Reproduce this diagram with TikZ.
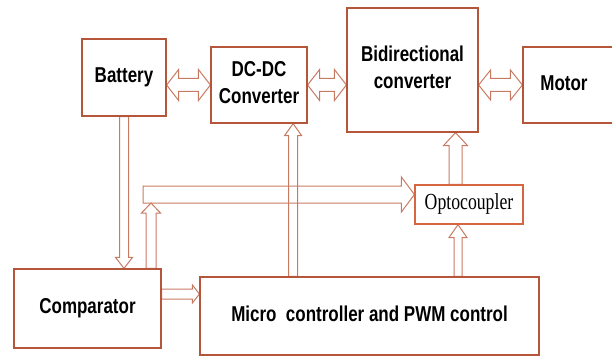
\documentclass[tikz,border=0pt]{standalone}
\usepackage{fontspec}
\setmainfont{Liberation Serif}
\setsansfont{Liberation Sans}
\usetikzlibrary{calc}
\definecolor{boxc}{RGB}{181,86,58}
\definecolor{optoc}{RGB}{214,102,66}
\definecolor{arrowc}{RGB}{199,122,98}
\pgfdeclarelayer{bg}
\pgfsetlayers{bg,main}
\newcommand{\blocktext}[2][0.79]{\scalebox{#1}[1]{\begin{tabular}{@{}c@{}}#2\end{tabular}}}

\begin{document}
\begin{tikzpicture}[x=1pt, y=-1pt,
    block/.style={draw=boxc, line width=1.2pt, fill=white, inner sep=0pt,
      font=\sffamily\bfseries\fontsize{21.5}{27}\selectfont},
    ashaft/.store in=\ashaft, ahead/.store in=\ahead, atip/.store in=\atip,
    ashaft=5, ahead=9, atip=12,
    sarrow/.style={draw=arrowc, line width=1pt, to path={
        (\tikztostart) coordinate (ta) (\tikztotarget) coordinate (tb)
        ($(tb)!\atip pt!(ta)$) coordinate (tn)
        ($(ta)!\ashaft pt!90:(tb)$) -- ($(tn)!\ashaft pt!90:(tb)$)
        -- ($(tn)!\ahead pt!90:(tb)$) -- (tb)
        -- ($(tn)!\ahead pt!-90:(tb)$) -- ($(tn)!\ashaft pt!-90:(tb)$)
        -- ($(ta)!\ashaft pt!-90:(tb)$) -- cycle}},
    darrow/.style={draw=arrowc, line width=1pt, to path={
        (\tikztostart) coordinate (ta) (\tikztotarget) coordinate (tb)
        ($(tb)!\atip pt!(ta)$) coordinate (tn)
        ($(ta)!\atip pt!(tb)$) coordinate (tm)
        (ta) -- ($(tm)!\ahead pt!90:(tb)$) -- ($(tm)!\ashaft pt!90:(tb)$)
        -- ($(tn)!\ashaft pt!90:(tb)$) -- ($(tn)!\ahead pt!90:(tb)$) -- (tb)
        -- ($(tn)!\ahead pt!-90:(tb)$) -- ($(tn)!\ashaft pt!-90:(tb)$)
        -- ($(tm)!\ashaft pt!-90:(tb)$) -- ($(tm)!\ahead pt!-90:(tb)$) -- cycle}} ]
  \clip (0,0) rectangle (612,358);

  % blocks
  \node[block, minimum width=84, minimum height=77] (bat) at (124,77.5) {\blocktext{Battery}};
  \node[block, minimum width=96, minimum height=76] (dcdc) at (259,85) {\blocktext{DC-DC\\Converter}};
  \node[block, minimum width=131, minimum height=124] (bidir) at (412.5,70) {\blocktext{Bidirectional\\converter}};
  \node[block, minimum width=100, minimum height=76] (motor) at (573,85) {\hspace*{-18pt}\blocktext{Motor}};
  \node[block, draw=optoc, minimum width=108, minimum height=39,
    font=\rmfamily\fontsize{23}{27}\selectfont] (opto) at (469,204.5) {\blocktext[0.77]{Optocoupler}};
  \node[block, minimum width=147, minimum height=79] (comp) at (87.5,308.5) {\blocktext{Comparator}};
  \node[block, minimum width=339, minimum height=78] (micro) at (369.5,316) {\blocktext{Micro~ controller and PWM control}};

  % ends
  \coordinate (bus) at (143,194.5);
  \coordinate (busin) at (151,203);
  \coordinate (dcin) at ([xshift=-14.5pt]dcdc.south east);
  \coordinate (cmin) at ([yshift=22pt]micro.west);
  \coordinate (opin) at ([xshift=-11pt]opto.south);
  \coordinate (bdin) at ([xshift=43pt]bidir.south);

  % arrows
  \begin{pgfonlayer}{bg}
    \draw[darrow, ashaft=6.5, ahead=15.5, atip=12] (bat.east |- dcdc.west) to (dcdc.west);
    \draw[darrow, ashaft=6.5, ahead=15.5, atip=12] (dcdc.east) to (bidir.west |- dcdc.east);
    \draw[darrow, ashaft=6.5, ahead=15, atip=12] (bidir.east |- motor.west) to (motor.west);

    \draw[sarrow, ashaft=4.5, ahead=8.5, atip=11] (bat.south) to (bat.south |- comp.north);
    \draw[sarrow, ashaft=8.5, ahead=17.5, atip=13] (bus) to ([yshift=10pt]opto.west);
    \draw[sarrow, ashaft=5, ahead=9.5, atip=10] (busin |- comp.north) to (busin);
    \draw[sarrow, ashaft=4.5, ahead=8.5, atip=12] (dcin |- micro.north) to (dcin);
    \draw[sarrow, ashaft=5, ahead=9, atip=7] (comp.east |- cmin) to (cmin);
    \draw[sarrow, ashaft=4, ahead=9, atip=13] (opin |- micro.north) to (opin);
    \draw[sarrow, ashaft=6.5, ahead=12, atip=13] (bdin |- opto.north) to (bdin);
  \end{pgfonlayer}
\end{tikzpicture}
\end{document}
